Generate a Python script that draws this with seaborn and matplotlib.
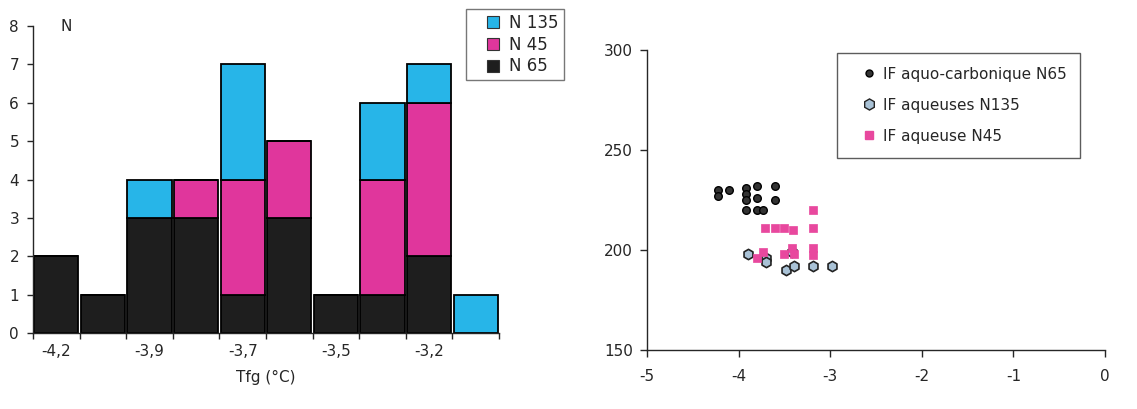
import numpy as np
import pandas as pd
import matplotlib
matplotlib.use("Agg")
import matplotlib.pyplot as plt
from matplotlib.lines import Line2D
import seaborn as sns

# ---------------- data ----------------
# left: stacked histogram of Tfg (10 classes)
n65 = [2, 1, 3, 3, 1, 3, 1, 1, 2, 0]
n45 = [0, 0, 0, 1, 3, 2, 0, 3, 4, 0]
n135 = [0, 0, 1, 0, 3, 0, 0, 2, 1, 1]
tick_labels = ["-4,2", "-3,9", "-3,7", "-3,5", "-3,2"]
series_names = ["N 135", "N 45", "N 65"]

# right: scatter Tfg vs Th
n65_x = [-4.22, -4.22, -4.1, -3.92, -3.92, -3.92, -3.92, -3.8, -3.8, -3.8, -3.73, -3.6, -3.6]
n65_y = [230, 227, 230, 231, 228, 225, 220, 232, 226, 220, 220, 232, 225]
n135_x = [-3.9, -3.7, -3.7, -3.48, -3.4, -3.42, -3.19, -2.98]
n135_y = [198, 196, 194, 190, 192, 199, 192, 192]
n45_x = [-3.19, -3.19, -3.19, -3.19, -3.71, -3.6, -3.5, -3.41, -3.8, -3.73, -3.5, -3.42, -3.4]
n45_y = [220, 211, 201, 197.5, 211, 211, 211, 210, 196, 199, 198, 201, 198]
scatter_labels = ["IF aquo-carbonique N65", "IF aqueuses N135", "IF aqueuse N45"]

# ---------------- style ----------------
sns.set_theme(style="ticks")
plt.rcParams["font.family"] = ["DejaVu Sans"]
plt.rcParams["axes.linewidth"] = 1.0
plt.rcParams["axes.unicode_minus"] = False

c_cyan = "#27B5E8"
c_mag = "#E0369C"
c_blk = "#1E1E1E"

fig = plt.figure(figsize=(11.37, 4.09), dpi=100)
ax1 = fig.add_axes([33 / 1137, 1 - 333 / 409, 466 / 1137, 307 / 409])
ax2 = fig.add_axes([647 / 1137, 1 - 350 / 409, 458 / 1137, 300 / 409])

# ---------------- left histogram ----------------
rows = []
for name, vals in zip(series_names, [n135, n45, n65]):
    for i, v in enumerate(vals):
        rows.append({"pos": i, "series": name, "count": v})
df = pd.DataFrame(rows)

sns.histplot(data=df, x="pos", weights="count", hue="series", hue_order=series_names,
             multiple="stack", discrete=True, shrink=0.95,
             palette={"N 135": c_cyan, "N 45": c_mag, "N 65": c_blk},
             edgecolor="black", linewidth=1.3, alpha=1, legend=False, ax=ax1)

ax1.set_xlim(-0.5, 9.5)
ax1.set_ylim(0, 8)
ax1.set_yticks(range(0, 9))
ax1.set_ylabel("")
ax1.set_xlabel("Tfg (°C)", fontsize=11, labelpad=8)
nb = len(n65)
ax1.set_xticks(np.arange(-0.5, nb + 0.5, 1), labels=[""] * (nb + 1))
ax1.set_xticks(np.arange(0, nb, 2), labels=tick_labels, minor=True)
ax1.tick_params(axis="x", which="minor", length=0, pad=8, labelsize=11)
ax1.tick_params(axis="x", which="major", length=4, width=1)
ax1.tick_params(axis="y", length=4, width=1, labelsize=11, pad=6)
sns.despine(ax=ax1)
ax1.text(0.06, 1.0, "N", transform=ax1.transAxes, fontsize=11, va="center", ha="left")

colors = [c_cyan, c_mag, c_blk]
handles = [Line2D([], [], marker="s", ls="", markersize=8, markerfacecolor=c,
                  markeredgecolor="#333333", markeredgewidth=0.8) for c in colors]
leg1 = fig.legend(handles, series_names, loc="upper left", bbox_to_anchor=(466 / 1137, 1 - 9 / 409),
                  fontsize=12, frameon=True, fancybox=False, edgecolor="#555555",
                  handlelength=2.6, handletextpad=-0.3,
                  labelspacing=0.22, borderpad=0.3, borderaxespad=0)
leg1.get_frame().set_linewidth(1.0)

# ---------------- right scatter ----------------
sns.scatterplot(x=n65_x, y=n65_y, marker="o", s=30, color="#333333", edgecolor="black",
                linewidth=1.0, label=scatter_labels[0], ax=ax2, legend=False)
sns.scatterplot(x=n135_x, y=n135_y, marker="h", s=55, color="#A9C2D6", edgecolor="#222222",
                linewidth=1.2, label=scatter_labels[1], ax=ax2, legend=False)
sns.scatterplot(x=n45_x, y=n45_y, marker="s", s=28, color="#E8489E", edgecolor="#E8489E",
                linewidth=0.5, label=scatter_labels[2], ax=ax2, legend=False)

ax2.set_xlim(-5, 0)
ax2.set_ylim(150, 300)
ax2.set_xticks(range(-5, 1))
ax2.set_yticks([150, 200, 250, 300])
ax2.tick_params(axis="x", length=5, width=1, pad=9, labelsize=11)
ax2.tick_params(axis="y", length=5, width=1, pad=5, labelsize=11)
sns.despine(ax=ax2)

h2 = [Line2D([], [], marker="o", ls="", markersize=5, markerfacecolor="#333333", markeredgecolor="black"),
      Line2D([], [], marker="h", ls="", markersize=8, markerfacecolor="#A9C2D6", markeredgecolor="#222222"),
      Line2D([], [], marker="s", ls="", markersize=6, markerfacecolor="#E8489E", markeredgecolor="#E8489E")]
leg2 = ax2.legend(h2, scatter_labels, loc="upper left", bbox_to_anchor=(837 / 1137, 1 - 53 / 409),
                  bbox_transform=fig.transFigure, fontsize=11, frameon=True, fancybox=False,
                  edgecolor="#333333", handlelength=2.4, handletextpad=-0.3,
                  labelspacing=1.05, borderpad=0.9, borderaxespad=0)
leg2.get_frame().set_linewidth(1.0)

fig.savefig("out.png", dpi=100)
